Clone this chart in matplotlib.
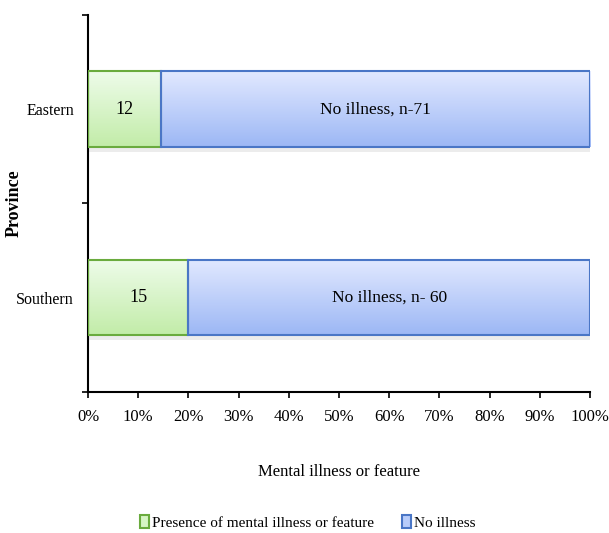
import matplotlib
matplotlib.use("Agg")
import matplotlib.pyplot as plt
import numpy as np
from matplotlib.colors import LinearSegmentedColormap
from matplotlib.patches import Patch

provinces = ["Southern", "Eastern"]
presence = [15, 12]
no_illness = [60, 71]
no_illness_labels = ["No illness, n- 60", "No illness, n-71"]
series_names = ["Presence of mental illness or feature", "No illness"]
x_ticks = [0, 10, 20, 30, 40, 50, 60, 70, 80, 90, 100]

plt.rcParams['font.family'] = ['Liberation Serif', 'DejaVu Serif']

fig = plt.figure(figsize=(6.09, 5.33), dpi=100)
ax = fig.add_axes([0.1445, 0.2645, 0.8245, 0.7075])

pres = np.array(presence, float)
noil = np.array(no_illness, float)
tot = pres + noil
p_pct = pres / tot * 100
n_pct = noil / tot * 100
y = np.arange(len(provinces))
h = 0.4

green_cmap = LinearSegmentedColormap.from_list("g", ["#c2eca8", "#eefcea"])
blue_cmap = LinearSegmentedColormap.from_list("b", ["#9cb7f5", "#e2e9ff"])
grad = np.linspace(0, 1, 256).reshape(-1, 1)

b1 = ax.barh(y, p_pct, height=h, color="none", edgecolor="#6aab3e", linewidth=1.5, zorder=3)
b2 = ax.barh(y, n_pct, left=p_pct, height=h, color="none", edgecolor="#4a76c6", linewidth=1.5, zorder=3)

for bars, cmap in [(b1, green_cmap), (b2, blue_cmap)]:
    for r in bars:
        x0, y0 = r.get_x(), r.get_y()
        w, hh = r.get_width(), r.get_height()
        ax.fill_between([x0, x0 + w], y0 - 0.025, y0, color="#dadada", alpha=0.5, zorder=1, linewidth=0)
        im = ax.imshow(grad, extent=[x0, x0 + w, y0, y0 + hh], aspect="auto",
                       cmap=cmap, origin="lower", zorder=2)
        im.set_clip_path(r)

for i in range(len(provinces)):
    ax.text(p_pct[i] / 2, y[i], str(presence[i]), ha="center", va="center", fontsize=13, zorder=4)
    ax.text(p_pct[i] + n_pct[i] / 2, y[i], no_illness_labels[i], ha="center", va="center", fontsize=12.5, zorder=4)

ax.set_xlim(0, 100)
ax.set_ylim(-0.5, 1.5)
ax.set_xticks(x_ticks)
ax.set_xticklabels([f"{t}%" for t in x_ticks], fontsize=12)
ax.set_yticks([-0.5, 0.5, 1.5])
ax.set_yticklabels([])
ax.set_yticks(y, minor=True)
ax.set_yticklabels(provinces, minor=True, fontsize=11.5)
ax.tick_params(axis="y", which="minor", length=0, pad=10)
ax.tick_params(axis="y", which="major", length=4, width=1.2, direction="out")
ax.tick_params(axis="x", length=4, width=1.2, direction="out", pad=8)
for s in ["top", "right"]:
    ax.spines[s].set_visible(False)
ax.spines["left"].set_linewidth(1.5)
ax.spines["bottom"].set_linewidth(1.5)

ax.set_xlabel("Mental illness or feature", fontsize=12, labelpad=28)
ax.set_ylabel("Province", fontsize=13, fontweight="bold", va="center")
ax.yaxis.set_label_coords(-0.148, 0.5)

handles = [Patch(facecolor="#d6f5c4", edgecolor="#6aab3e", linewidth=1.5),
           Patch(facecolor="#b8ccfa", edgecolor="#4a76c6", linewidth=1.5)]
fig.legend(handles, series_names, loc="center", bbox_to_anchor=(0.505, 0.02),
           ncol=2, frameon=False, fontsize=11, handlelength=0.6, handleheight=0.9,
           handletextpad=0.2, columnspacing=1.8)

fig.savefig("out.png", dpi=100)
